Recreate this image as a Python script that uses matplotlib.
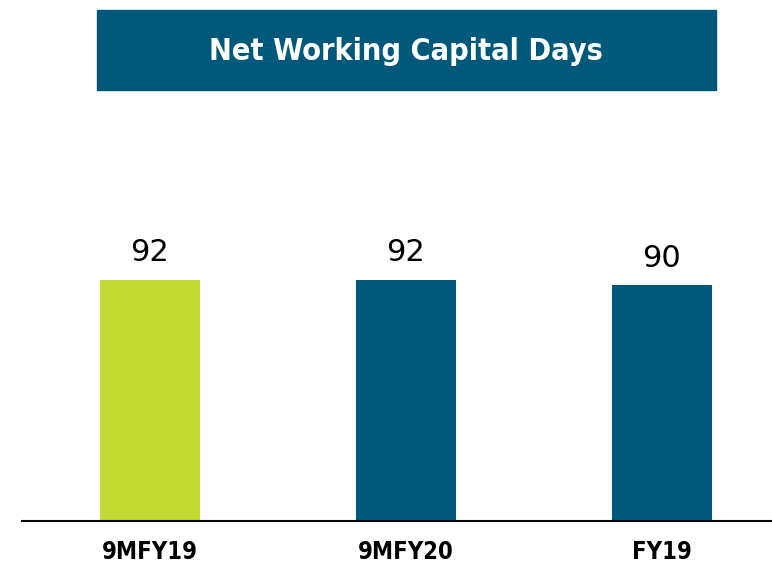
import matplotlib.pyplot as plt
from matplotlib.patches import Rectangle

categories = ["9MFY19", "9MFY20", "FY19"]
values = [92, 92, 90]
bar_colors = ["#C2D833", "#00587A", "#00587A"]

title_color = "#00587A"

fig = plt.figure(figsize=(7.72, 5.65), dpi=100)
W, H = 772, 565

# title banner
fig.patches.append(Rectangle((97 / W, 1 - 90 / H), (716 - 97) / W, 80 / H,
                             transform=fig.transFigure, color=title_color, zorder=0))
fig.text(406 / W, 1 - 51 / H, "Net Working Capital Days", color="white",
         fontsize=22, fontweight="bold", fontstretch="condensed",
         family="DejaVu Sans", ha="center", va="center")

ax = fig.add_axes([22 / W, 44 / H, 750 / W, 421 / H])
x = list(range(len(categories)))
bars = ax.bar(x, values, width=100 / 256, color=bar_colors)
ax.bar_label(bars, labels=[str(v) for v in values], padding=9,
             fontsize=22, family="DejaVu Sans")

ax.set_xlim(-0.5, 2.43)
ax.set_ylim(0, 421 / 2.62)
ax.set_xticks(x)
ax.set_xticklabels(categories, fontsize=17, fontweight="bold",
                   fontstretch="condensed", family="DejaVu Sans")
ax.tick_params(axis="x", length=0, pad=14)
ax.set_yticks([])
for s in ["top", "right", "left"]:
    ax.spines[s].set_visible(False)
ax.spines["bottom"].set_linewidth(1.5)

fig.savefig("out.png", dpi=100)
